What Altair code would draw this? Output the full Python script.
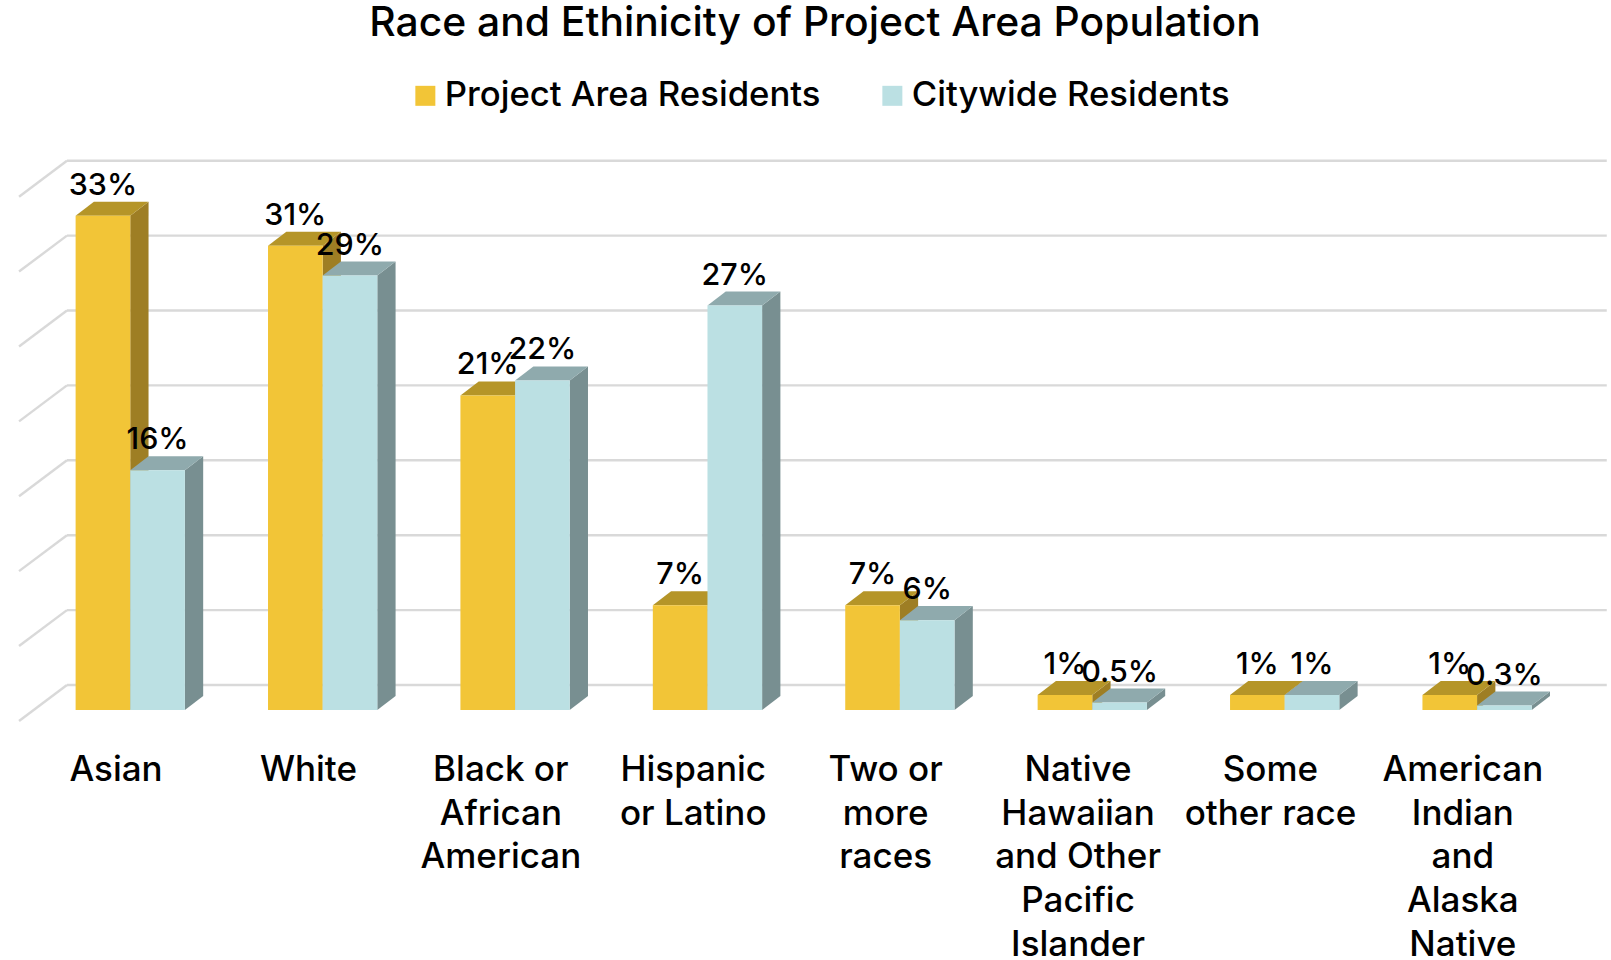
import altair as alt
import pandas as pd

FONT = "Inter"
TEXT_COLOR = "#000000"
GRID_COLOR = "#D9D9D9"

chart_title = "Race and Ethinicity of Project Area Population"
categories = [
    "Asian", "White", "Black or\nAfrican\nAmerican", "Hispanic\nor Latino",
    "Two or\nmore\nraces", "Native\nHawaiian\nand Other\nPacific\nIslander",
    "Some\nother race", "American\nIndian\nand\nAlaska\nNative",
]
project_area = [33, 31, 21, 7, 7, 1, 1, 1]
citywide = [16, 29, 22, 27, 6, 0.5, 1, 0.3]
project_labels = ["33%", "31%", "21%", "7%", "7%", "1%", "1%", "1%"]
citywide_labels = ["16%", "29%", "22%", "27%", "6%", "0.5%", "1%", "0.3%"]
grid_values = [0, 5, 10, 15, 20, 25, 30, 35]

series_names = ["Project Area Residents", "Citywide Residents"]
front_colors = ["#F2C537", "#BBE0E3"]
top_colors = ["#B59528", "#8FAAAD"]
side_colors = ["#9E7E24", "#788F91"]

# Extrusion of the pseudo-3D bars and floor, in axis units
BAR_WIDTH = 0.284
DEPTH_X = 0.095
DEPTH_Y = 0.935
GRID_LIFT = 1.67
GRID_LEFT_BACK = -0.329
GRID_LEFT_FRONT = -0.578
GRID_RIGHT = 7.674
GRID_DROP = 2.4
LABEL_SHIFT = -0.074

x_scale = alt.Scale(domain=[-0.677, 7.696], range=[0, 1611], nice=False, zero=False)
y_scale = alt.Scale(domain=[-16.69, 47.4], range=[960, 0], nice=False, zero=False)
x_axis = alt.X("x:Q", scale=x_scale, axis=None)
y_axis = alt.Y("y:Q", scale=y_scale, axis=None)

fronts, sides, tops, labels = [], [], [], []
for s, (name, values, texts) in enumerate(
    zip(series_names, [project_area, citywide], [project_labels, citywide_labels])
):
    for i, (v, t) in enumerate(zip(values, texts)):
        left = i + (s - 1) * BAR_WIDTH
        right = left + BAR_WIDTH
        fronts.append(dict(series=name, x=left, x2=right, y=v, y2=0))
        labels.append(dict(x=(left + right) / 2, y=v, text=t))
        sides += [
            dict(s=s, face=f"{s}-{i}", x=right, y=v, y2=0, fill=side_colors[s]),
            dict(s=s, face=f"{s}-{i}", x=right + DEPTH_X, y=v + DEPTH_Y, y2=DEPTH_Y, fill=side_colors[s]),
        ]
        tops += [
            dict(s=s, face=f"{s}-{i}", x=left, x2=right, y=v, fill=top_colors[s]),
            dict(s=s, face=f"{s}-{i}", x=left + DEPTH_X, x2=right + DEPTH_X, y=v + DEPTH_Y, fill=top_colors[s]),
        ]

sides = pd.DataFrame(sides)
tops = pd.DataFrame(tops)

grid_back = pd.DataFrame(
    [dict(x=GRID_LEFT_BACK, x2=GRID_RIGHT, y=g + GRID_LIFT) for g in grid_values]
)
grid_oblique = pd.DataFrame(
    [
        dict(x=GRID_LEFT_FRONT, x2=GRID_LEFT_BACK, y=g + GRID_LIFT - GRID_DROP, y2=g + GRID_LIFT)
        for g in grid_values
    ]
)

layers = [
    alt.Chart(grid_back).mark_rule(color=GRID_COLOR, strokeWidth=2.4).encode(
        x=x_axis, x2="x2:Q", y=y_axis
    ),
    alt.Chart(grid_oblique).mark_rule(color=GRID_COLOR, strokeWidth=2.4).encode(
        x=x_axis, x2="x2:Q", y=y_axis, y2="y2:Q"
    ),
]

# The darker faces go series by series so each citywide bar covers its neighbour's side.
for s in range(len(series_names)):
    layers.append(
        alt.Chart(sides[sides.s == s]).mark_area(orient="vertical").encode(
            x=x_axis, y=y_axis, y2="y2:Q", detail="face:N",
            fill=alt.Fill("fill:N", scale=None),
        )
    )
    layers.append(
        alt.Chart(tops[tops.s == s]).mark_area(orient="horizontal").encode(
            x=x_axis, x2="x2:Q", y=y_axis, detail="face:N",
            fill=alt.Fill("fill:N", scale=None),
        )
    )

layers.append(
    alt.Chart(pd.DataFrame(fronts)).mark_bar(cornerRadius=0).encode(
        x=x_axis,
        x2="x2:Q",
        y=y_axis,
        y2="y2:Q",
        color=alt.Color(
            "series:N",
            scale=alt.Scale(domain=series_names, range=front_colors),
            legend=alt.Legend(
                title=None,
                orient="none",
                legendX=408,
                legendY=78,
                direction="horizontal",
                symbolType="square",
                symbolSize=400,
                symbolStrokeWidth=0,
                symbolOpacity=1,
                labelFont=FONT,
                labelFontSize=34.7,
                labelFontWeight=500,
                labelColor=TEXT_COLOR,
                labelLimit=500,
                labelOffset=2,
                columnPadding=54,
                rowPadding=0,
                padding=0,
            ),
        ),
    )
)

layers.append(
    alt.Chart(pd.DataFrame(labels)).mark_text(
        font=FONT, fontSize=30.5, fontWeight=500, color=TEXT_COLOR, dy=-30, baseline="middle"
    ).encode(x=x_axis, y=y_axis, text="text:N")
)

axis_labels = pd.DataFrame(
    [dict(x=i + LABEL_SHIFT, y=-4.02, text=c) for i, c in enumerate(categories)]
)
layers.append(
    alt.Chart(axis_labels).mark_text(
        font=FONT, fontSize=35, fontWeight=500, color=TEXT_COLOR,
        lineBreak="\n", lineHeight=43.6, baseline="middle", align="center",
    ).encode(x=x_axis, y=y_axis, text="text:N")
)

# Heading, set as a text layer so it sits inside the fixed-size canvas
layers.append(
    alt.Chart(pd.DataFrame({"text": [chart_title]})).mark_text(
        font=FONT, fontSize=40.8, fontWeight=500, color=TEXT_COLOR,
        baseline="middle", align="center",
    ).encode(x=alt.value(815), y=alt.value(23.5), text="text:N")
)

chart = (
    alt.layer(*layers)
    .properties(
        width=1611,
        height=960,
        padding=0,
        background="#FFFFFF",
        autosize=alt.AutoSizeParams(type="none"),
        view=alt.ViewBackground(stroke="transparent", strokeWidth=0),
    )
    .configure_view(strokeWidth=0, stroke="transparent")
)

chart.save("out.html", embed_options={"renderer": "svg", "actions": False})
